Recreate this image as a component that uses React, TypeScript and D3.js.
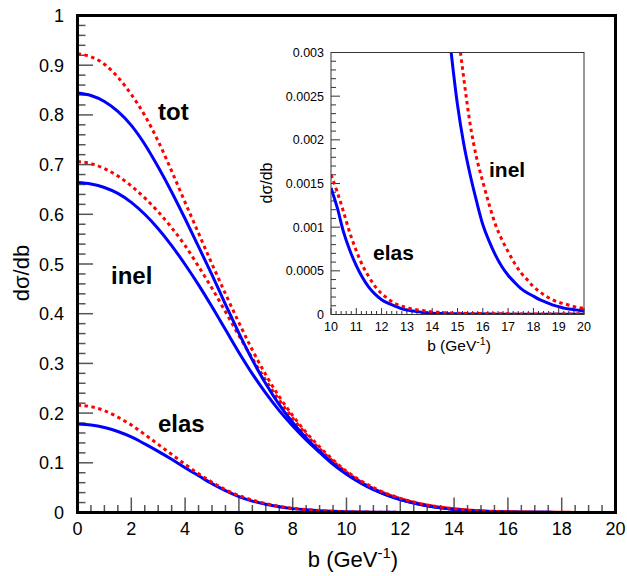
import React from "react";
import * as d3 from "d3";

// ---------- data ----------
const bMain = [0, 0.5, 1, 1.5, 2, 2.5, 3, 3.5, 4, 4.5, 5, 5.5, 6, 6.5, 7, 7.5, 8, 8.5, 9, 9.5, 10, 10.5, 11, 11.5, 12, 12.5, 13, 13.5, 14, 14.5, 15, 15.5, 16, 16.5, 17, 17.5, 18, 18.5, 19, 19.5, 20];

const totRed = [0.923, 0.917, 0.902, 0.876, 0.841, 0.799, 0.747, 0.687, 0.624, 0.562, 0.500, 0.440, 0.382, 0.327, 0.277, 0.233, 0.195, 0.161, 0.132, 0.106, 0.083, 0.065, 0.050, 0.038, 0.0285, 0.021, 0.0152, 0.0109, 0.0077, 0.0053, 0.0035, 0.0023, 0.0016, 0.00108, 0.00074, 0.0005, 0.00033, 0.00022, 0.00015, 0.0001, 0.00007];
const totBlue = [0.844, 0.839, 0.827, 0.807, 0.779, 0.741, 0.695, 0.645, 0.591, 0.535, 0.478, 0.419, 0.361, 0.307, 0.259, 0.217, 0.181, 0.150, 0.123, 0.099, 0.078, 0.061, 0.047, 0.035, 0.026, 0.019, 0.0136, 0.0093, 0.0062, 0.0040, 0.0026, 0.0017, 0.0011, 0.0007, 0.00046, 0.0003, 0.00021, 0.00014, 0.00009, 0.00006, 0.00004];
const inelRed = [0.706, 0.702, 0.692, 0.677, 0.657, 0.633, 0.605, 0.573, 0.537, 0.495, 0.451, 0.404, 0.356, 0.310, 0.266, 0.226, 0.190, 0.157, 0.128, 0.103, 0.081, 0.063, 0.048, 0.037, 0.028, 0.0205, 0.0148, 0.0106, 0.0075, 0.0052, 0.0034, 0.0022, 0.0015, 0.00103, 0.00072, 0.00048, 0.00032, 0.00021, 0.00014, 0.0001, 0.00007];
const inelBlue = [0.664, 0.661, 0.654, 0.642, 0.624, 0.600, 0.571, 0.537, 0.499, 0.458, 0.414, 0.368, 0.322, 0.279, 0.240, 0.205, 0.174, 0.146, 0.121, 0.097, 0.077, 0.060, 0.046, 0.035, 0.026, 0.019, 0.0135, 0.0093, 0.0062, 0.0040, 0.0026, 0.0017, 0.0011, 0.0007, 0.00046, 0.0003, 0.00021, 0.00014, 0.00009, 0.00006, 0.00004];
const elasRed = [0.216, 0.213, 0.205, 0.192, 0.176, 0.157, 0.137, 0.117, 0.097, 0.078, 0.061, 0.046, 0.034, 0.025, 0.018, 0.0125, 0.0085, 0.0058, 0.0039, 0.0025, 0.0016, 0.00117, 0.00073, 0.00043, 0.00024, 0.00013, 0.00008, 0.00005, 0.00003, 0.00002, 0.000015, 0.00001, 0.000008, 0.000006, 0.000005, 0.000004, 0.000003, 0.000003, 0.000002, 0.000002, 0.000002];
const elasBlue = [0.178, 0.176, 0.171, 0.163, 0.152, 0.138, 0.123, 0.107, 0.090, 0.074, 0.058, 0.044, 0.032, 0.023, 0.0165, 0.0115, 0.0078, 0.0053, 0.0035, 0.0023, 0.00145, 0.00094, 0.00058, 0.00034, 0.0002, 0.00011, 0.00006, 0.00003, 0.000015, 0.00001, 0.000008, 0.000006, 0.000005, 0.000004, 0.000003, 0.000003, 0.000002, 0.000002, 0.000002, 0.000001, 0.000001];

const bInset = [10, 10.25, 10.5, 10.75, 11, 11.25, 11.5, 11.75, 12, 12.25, 12.5, 12.75, 13, 13.25, 13.5, 13.75, 14, 14.25, 14.5, 14.75, 15, 15.25, 15.5, 15.75, 16, 16.25, 16.5, 16.75, 17, 17.25, 17.5, 17.75, 18, 18.25, 18.5, 18.75, 19, 19.25, 19.5, 19.75, 20];
const insetElasBlue = [0.00145, 0.00122, 0.00094, 0.00073, 0.00056, 0.00042, 0.00031, 0.00023, 0.00017, 0.00013, 0.0001, 0.00007, 0.00005, 0.00004, 0.00003, 0.00002, 0.000015, 0.000012, 0.00001, 0.000009, 0.000008, 0.000007, 0.000006, 0.000006, 0.000005, 0.000005, 0.000004, 0.000004, 0.000004, 0.000003, 0.000003, 0.000003, 0.000003, 0.000002, 0.000002, 0.000002, 0.000002, 0.000002, 0.000002, 0.000002, 0.000002];
const insetElasRed = [0.0016, 0.0014, 0.00117, 0.00093, 0.00073, 0.00056, 0.00043, 0.00032, 0.00024, 0.00018, 0.00013, 0.0001, 0.00008, 0.00006, 0.00005, 0.00004, 0.00003, 0.000025, 0.00002, 0.000018, 0.000015, 0.000013, 0.000012, 0.000011, 0.00001, 0.000009, 0.000009, 0.000008, 0.000008, 0.000007, 0.000007, 0.000006, 0.000006, 0.000006, 0.000005, 0.000005, 0.000005, 0.000005, 0.000005, 0.000005, 0.000005];
const insetInelBlue = [0.075, 0.066, 0.059, 0.052, 0.045, 0.039, 0.034, 0.029, 0.025, 0.021, 0.018, 0.015, 0.0125, 0.0104, 0.0085, 0.007, 0.0057, 0.0046, 0.0037, 0.0030, 0.0024, 0.00195, 0.0016, 0.0013, 0.00103, 0.00084, 0.00068, 0.00055, 0.00045, 0.00037, 0.0003, 0.00025, 0.00021, 0.00017, 0.00014, 0.00011, 0.00009, 0.00007, 0.00006, 0.00005, 0.00004];
const insetInelRed = [0.078, 0.069, 0.061, 0.054, 0.047, 0.041, 0.036, 0.031, 0.027, 0.023, 0.020, 0.017, 0.0145, 0.0124, 0.0105, 0.0089, 0.0074, 0.0062, 0.0051, 0.0041, 0.0033, 0.0027, 0.00218, 0.0018, 0.00152, 0.00126, 0.00103, 0.00086, 0.00072, 0.00059, 0.00048, 0.0004, 0.00032, 0.00026, 0.00021, 0.00017, 0.00014, 0.00012, 0.0001, 0.00008, 0.00007];

const mainXTicks = [0, 2, 4, 6, 8, 10, 12, 14, 16, 18, 20];
const mainYTicks = [0, 0.1, 0.2, 0.3, 0.4, 0.5, 0.6, 0.7, 0.8, 0.9, 1];
const mainYLabels = ["0", "0.1", "0.2", "0.3", "0.4", "0.5", "0.6", "0.7", "0.8", "0.9", "1"];
const insetXTicks = [10, 11, 12, 13, 14, 15, 16, 17, 18, 19, 20];
const insetYTicks = [0, 0.0005, 0.001, 0.0015, 0.002, 0.0025, 0.003];
const insetYLabels = ["0", "0.0005", "0.001", "0.0015", "0.002", "0.0025", "0.003"];

const BLUE = "#0000ff";
const RED = "#ff0000";
const FONT = "'Liberation Sans', Arial, Helvetica, sans-serif";

function pts(xs: number[], ys: number[]): [number, number][] {
  return xs.map((x, i) => [x, ys[i]] as [number, number]);
}

export default function App() {
  // main scales
  const x = d3.scaleLinear().domain([0, 20]).range([77.5, 615.5]);
  const y = d3.scaleLinear().domain([0, 1]).range([512.5, 15.5]);
  // inset scales
  const ix = d3.scaleLinear().domain([10, 20]).range([331, 584]);
  const iy = d3.scaleLinear().domain([0, 0.003]).range([314.5, 52.5]);

  const line = d3
    .line<[number, number]>()
    .x((d) => x(d[0]))
    .y((d) => y(d[1]))
    .curve(d3.curveMonotoneX);
  const iline = d3
    .line<[number, number]>()
    .x((d) => ix(d[0]))
    .y((d) => iy(d[1]))
    .curve(d3.curveMonotoneX);

  const mainSeries = [
    { v: elasBlue, c: BLUE, dash: false },
    { v: elasRed, c: RED, dash: true },
    { v: inelBlue, c: BLUE, dash: false },
    { v: inelRed, c: RED, dash: true },
    { v: totBlue, c: BLUE, dash: false },
    { v: totRed, c: RED, dash: true },
  ];
  const insetSeries = [
    { v: insetElasBlue, c: BLUE, dash: false },
    { v: insetElasRed, c: RED, dash: true },
    { v: insetInelBlue, c: BLUE, dash: false },
    { v: insetInelRed, c: RED, dash: true },
  ];

  const xMinor = d3.range(0, 20.001, 0.5);
  const yMinor = d3.range(0, 1.0001, 0.02);
  const ixMinor = d3.range(10, 20.001, 0.2);
  const iyMinor = d3.range(0, 0.0030001, 0.0001);

  const tickColor = "#555";

  return (
    <svg
      width={627}
      height={576}
      style={{ position: "absolute", left: 0, top: 0, background: "#fff" }}
      fontFamily={FONT}
    >
      <defs>
        <clipPath id="mainClip">
          <rect x={x(0)} y={y(1)} width={x(20) - x(0)} height={y(0) - y(1)} />
        </clipPath>
        <clipPath id="insetClip">
          <rect x={ix(10)} y={iy(0.003)} width={ix(20) - ix(10)} height={iy(0) - iy(0.003)} />
        </clipPath>
      </defs>
      <rect x={0} y={0} width={627} height={576} fill="#fff" />

      {/* main ticks */}
      {xMinor.map((t, i) => {
        const major = Math.abs(t / 2 - Math.round(t / 2)) < 1e-6;
        return (
          <line key={"xm" + i} x1={x(t)} x2={x(t)} y1={y(0)} y2={y(0) - (major ? 15 : 7.5)} stroke={tickColor} strokeWidth={1.5} />
        );
      })}
      {yMinor.map((t, i) => {
        const major = Math.abs(t * 10 - Math.round(t * 10)) < 1e-6;
        return (
          <line key={"ym" + i} x1={x(0)} x2={x(0) + (major ? 15.5 : 8)} y1={y(t)} y2={y(t)} stroke={tickColor} strokeWidth={1.5} />
        );
      })}

      {/* main curves */}
      <g clipPath="url(#mainClip)">
        {mainSeries.map((s, i) => (
          <path
            key={"ms" + i}
            d={line(pts(bMain, s.v)) || ""}
            fill="none"
            stroke={s.c}
            strokeWidth={3}
            strokeDasharray={s.dash ? "3.5 3.5" : undefined}
          />
        ))}
      </g>

      {/* main frame */}
      <rect x={x(0)} y={y(1)} width={x(20) - x(0)} height={y(0) - y(1)} fill="none" stroke="#000" strokeWidth={3} />

      {/* main tick labels */}
      {mainXTicks.map((t) => (
        <text key={"xl" + t} x={x(t)} y={535} fontSize={18} textAnchor="middle" fill="#000">
          {t}
        </text>
      ))}
      {mainYTicks.map((t, i) => (
        <text key={"yl" + t} x={64} y={y(t) + 6.5} fontSize={18} textAnchor="end" fill="#000">
          {mainYLabels[i]}
        </text>
      ))}

      {/* main axis titles */}
      <text x={353} y={567} fontSize={22} textAnchor="middle" fill="#000">
        b (GeV
        <tspan fontSize={15} dy={-9}>-1</tspan>
        <tspan dy={9}>)</tspan>
      </text>
      <text transform="translate(29,273) rotate(-90)" fontSize={22} textAnchor="middle" fill="#000">
        dσ/db
      </text>

      {/* curve labels */}
      <text x={158} y={120} fontSize={24} fontWeight="bold" fill="#000">tot</text>
      <text x={111} y={284} fontSize={24} fontWeight="bold" fill="#000">inel</text>
      <text x={158} y={432} fontSize={24} fontWeight="bold" fill="#000">elas</text>

      {/* inset */}
      <rect x={ix(10)} y={iy(0.003)} width={ix(20) - ix(10)} height={iy(0) - iy(0.003)} fill="#fff" stroke="none" />
      {ixMinor.map((t, i) => {
        const major = Math.abs(t - Math.round(t)) < 1e-6;
        return (
          <line key={"ixm" + i} x1={ix(t)} x2={ix(t)} y1={iy(0)} y2={iy(0) - (major ? 6.5 : 3.5)} stroke="#333" strokeWidth={1} />
        );
      })}
      {iyMinor.map((t, i) => {
        const major = Math.abs(t / 0.0005 - Math.round(t / 0.0005)) < 1e-6;
        return (
          <line key={"iym" + i} x1={ix(10)} x2={ix(10) + (major ? 9 : 5)} y1={iy(t)} y2={iy(t)} stroke="#333" strokeWidth={1} />
        );
      })}
      <g clipPath="url(#insetClip)">
        {insetSeries.map((s, i) => (
          <path
            key={"is" + i}
            d={iline(pts(bInset, s.v)) || ""}
            fill="none"
            stroke={s.c}
            strokeWidth={3}
            strokeDasharray={s.dash ? "3.5 3.5" : undefined}
          />
        ))}
      </g>
      <rect x={ix(10)} y={iy(0.003)} width={ix(20) - ix(10)} height={iy(0) - iy(0.003)} fill="none" stroke="#333" strokeWidth={1} />

      {insetXTicks.map((t) => (
        <text key={"ixl" + t} x={ix(t)} y={330.5} fontSize={12.5} textAnchor="middle" fill="#000">
          {t}
        </text>
      ))}
      {insetYTicks.map((t, i) => (
        <text key={"iyl" + t} x={324} y={iy(t) + 4.5} fontSize={12.5} textAnchor="end" fill="#000">
          {insetYLabels[i]}
        </text>
      ))}
      <text x={459} y={351} fontSize={15.5} textAnchor="middle" fill="#000">
        b (GeV
        <tspan fontSize={10.5} dy={-6.5}>-1</tspan>
        <tspan dy={6.5}>)</tspan>
      </text>
      <text transform="translate(272,183) rotate(-90)" fontSize={16} textAnchor="middle" fill="#000">
        dσ/db
      </text>
      <text x={373} y={260} fontSize={21} fontWeight="bold" fill="#000">elas</text>
      <text x={489} y={177} fontSize={21} fontWeight="bold" fill="#000">inel</text>
    </svg>
  );
}
